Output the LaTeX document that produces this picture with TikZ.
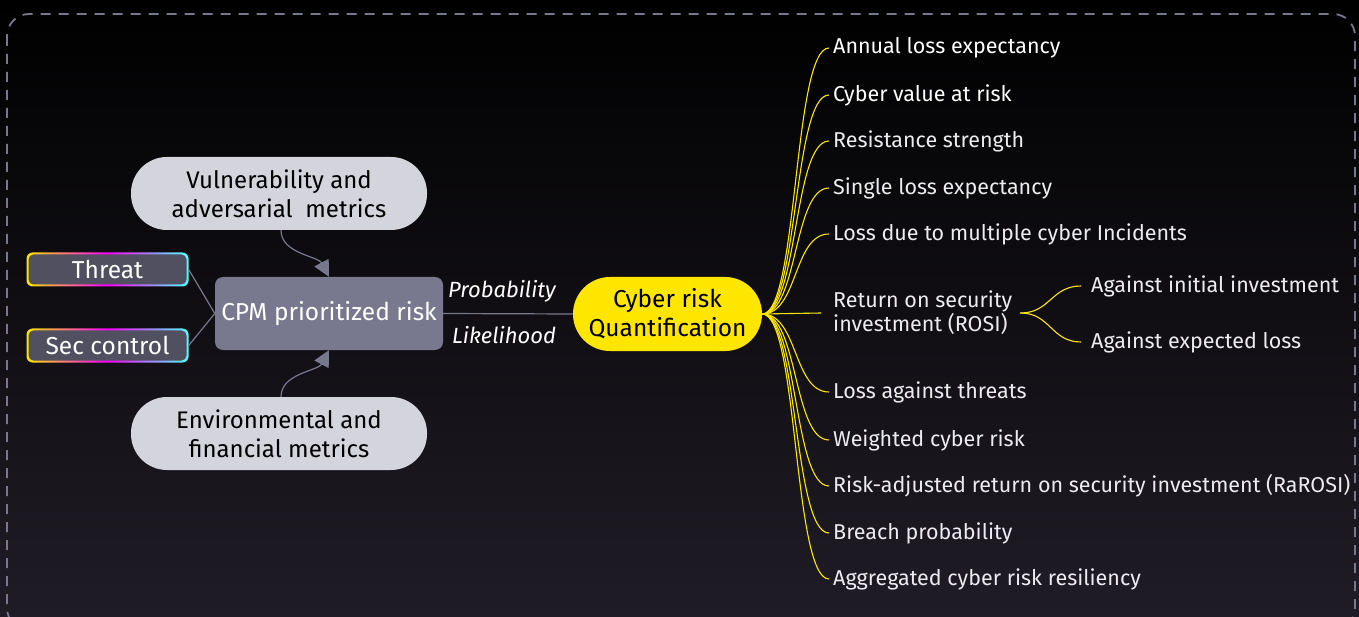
\documentclass[tikz,border=0pt]{standalone}
\usepackage{fontspec}
\setmainfont{Fira Sans}
\usetikzlibrary{arrows.meta,calc}
\definecolor{bgbot}{RGB}{32,28,38}
\definecolor{frame}{RGB}{120,120,140}
\definecolor{pill}{RGB}{212,212,220}
\definecolor{cpmfill}{RGB}{120,120,142}
\definecolor{inputfill}{RGB}{80,80,96}
\definecolor{eyyellow}{RGB}{255,230,0}
\definecolor{leaftext}{RGB}{236,236,240}
\tikzset{
  pillbox/.style={fill=pill, rounded corners=36pt, minimum width=296pt, minimum height=73pt,
    align=center, text=black, font=\fontsize{24}{29}\selectfont, inner sep=0pt},
  cpmbox/.style={fill=cpmfill, rounded corners=8pt, minimum width=228pt, minimum height=73pt,
    text=white, font=\fontsize{24.5}{28}\selectfont, inner sep=0pt},
  inbox/.style={left color=eyyellow, right color=cyan!70!white, middle color=magenta,
    rounded corners=6pt, minimum width=162pt, minimum height=34pt, inner sep=0pt,
    text=white, font=\fontsize{24.5}{28}\selectfont,
    path picture={\fill[inputfill, rounded corners=5pt]
      ([shift={(2pt,-2pt)}]path picture bounding box.north west) rectangle
      ([shift={(-2pt,2pt)}]path picture bounding box.south east);}},
  crqbox/.style={fill=eyyellow, rounded corners=37pt, minimum width=189pt, minimum height=74pt,
    align=center, text=black, font=\fontsize{24.5}{29}\selectfont, inner sep=0pt},
  leaf/.style={anchor=west, inner sep=0pt, text=leaftext, font=\fontsize{21.5}{21}\selectfont, align=left},
  branch/.style={draw=eyyellow, line width=1.1pt},
  gline/.style={draw=frame, line width=1.2pt},
  garrow/.style={draw=frame, line width=1.2pt, -{Triangle[width=16pt,length=16pt]}},
  lbl/.style={text=white, font=\fontsize{22}{24}\selectfont\itshape, inner sep=0pt}
}
\begin{document}
\begin{tikzpicture}[x=1pt,y=-1pt]
\useasboundingbox (0,0) rectangle (1359,617);
\shade[top color=black, bottom color=bgbot] (0,0) rectangle (1359,617);
\begin{scope}
\clip (0,0) rectangle (1359,617);
\draw[frame, line width=1.8pt, dash pattern=on 10pt off 8pt, rounded corners=22pt] (7,14) rectangle (1355,630);
\end{scope}

\node[pillbox] (vul) at (279,193.5) {Vulnerability and\\adversarial\ \ metrics};
\node[pillbox] (env) at (279,433.5) {Environmental and\\financial metrics};
\node[cpmbox] (cpm) at (329,313.5) {CPM prioritized risk};
\node[inbox] (threat) at (107.5,269.5) {Threat};
\node[inbox] (sec) at (107.5,345.5) {Sec control};
\node[crqbox] (crq) at (667.5,314) {Cyber risk\\Quantification};

\draw[gline] (threat.east) -- (cpm.west);
\draw[gline] (sec.east) -- (cpm.west);
\draw[gline] (cpm.east) -- (crq.west);
\draw[garrow] ([xshift=-48pt]vul.south -| cpm.north) to[out=-90,in=118,looseness=0.9] (cpm.north);
\draw[garrow] ([xshift=-48pt]env.north -| cpm.south) to[out=90,in=-118,looseness=0.9] (cpm.south);
\node[lbl] (prob) at (502,291) {Probability};
\node[lbl] (like) at (504,335) {Likelihood};

\node[leaf, text=white] (l1) at (833,48) {Annual loss expectancy};
\node[leaf, text=white] (l2) at (833,95) {Cyber value at risk};
\node[leaf] (l3) at (833,141) {Resistance strength};
\node[leaf] (l4) at (833,188) {Single loss expectancy};
\node[leaf] (l5) at (833,234) {Loss due to multiple cyber Incidents};
\node[leaf] (rosi) at (833,313) {Return on security\\investment (ROSI)};
\node[leaf] (l7) at (833,392) {Loss against threats};
\node[leaf] (l8) at (833,440) {Weighted cyber risk};
\node[leaf] (l9) at (833,486) {Risk-adjusted return on security investment (RaROSI)};
\node[leaf] (l10) at (833,533) {Breach probability};
\node[leaf] (l11) at (833,579) {Aggregated cyber risk resiliency};
\node[leaf] (a1) at (1091,286) {Against initial investment};
\node[leaf] (a2) at (1091,342) {Against expected loss};

\foreach \n in {l1,l2,l3,l4,l5,l7,l8,l9,l10,l11}{
  \draw[branch] (crq.east) to[out=0,in=180,distance=36pt] ([xshift=-4pt]\n.west);
}
\draw[branch] (crq.east) -- ([xshift=-12pt]rosi.west);
\draw[branch] ([xshift=8pt]rosi.east) to[out=0,in=180,distance=30pt] ([xshift=-10pt]a1.west);
\draw[branch] ([xshift=8pt]rosi.east) to[out=0,in=180,distance=30pt] ([xshift=-10pt]a2.west);
\end{tikzpicture}
\end{document}
